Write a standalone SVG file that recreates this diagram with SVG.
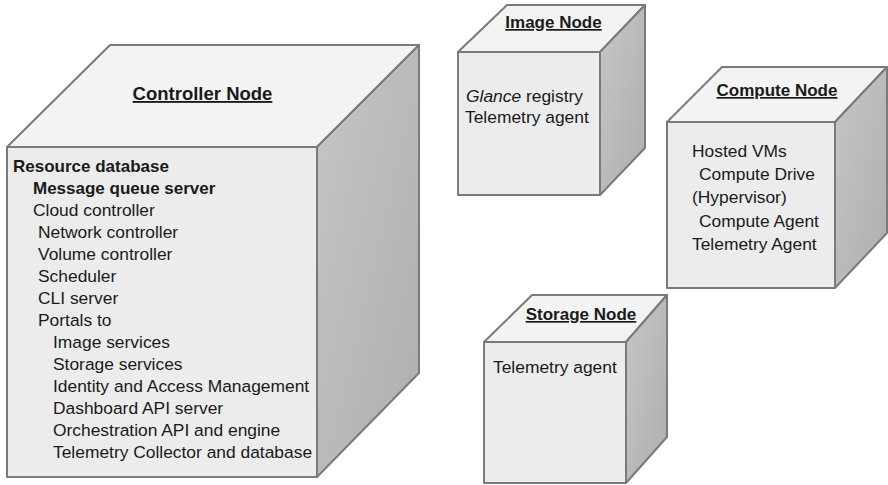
<svg xmlns="http://www.w3.org/2000/svg" width="888" height="485" viewBox="0 0 888 485">
  <defs>
    <linearGradient id="sideShade" x1="0" y1="0" x2="1" y2="1">
      <stop offset="0" stop-color="#c6c6c6"/>
      <stop offset="1" stop-color="#aeaeae"/>
    </linearGradient>
    <style>
      .front { fill: #ececec; stroke: #7a7a7a; stroke-width: 2; stroke-linejoin: round; }
      .top { fill: #f3f3f3; stroke: #7a7a7a; stroke-width: 2; stroke-linejoin: round; }
      .side { fill: url(#sideShade); stroke: #7a7a7a; stroke-width: 2; stroke-linejoin: round; }
      text { font-family: "Liberation Sans", Arial, Helvetica, sans-serif; font-size: 17.4px; fill: #1a1a1a; }
      .title { font-size: 17px; font-weight: bold; text-decoration: underline; }
      .big { font-size: 18.5px; }
      .b { font-weight: bold; font-size: 17px; }
      .i { font-style: italic; }
    </style>
  </defs>

  <!-- Controller Node cube -->
  <g id="controller-node">
    <polygon class="top" points="7,147 110,45 419,45 317,147"/>
    <polygon class="side" points="317,147 419,45 419,373 317,477"/>
    <rect class="front" x="7" y="147" width="310" height="330"/>
    <text class="title big" x="202.5" y="100" text-anchor="middle">Controller Node</text>
    <text class="b" x="13" y="172">Resource database</text>
    <text class="b" x="33" y="194">Message queue server</text>
    <text x="33" y="216">Cloud controller</text>
    <text x="38" y="238">Network controller</text>
    <text x="38" y="260">Volume controller</text>
    <text x="38" y="282">Scheduler</text>
    <text x="38" y="304">CLI server</text>
    <text x="38" y="326">Portals to</text>
    <text x="53" y="348">Image services</text>
    <text x="53" y="370">Storage services</text>
    <text x="53" y="392">Identity and Access Management</text>
    <text x="53" y="414">Dashboard API server</text>
    <text x="53" y="436">Orchestration API and engine</text>
    <text x="53" y="458">Telemetry Collector and database</text>
  </g>

  <!-- Image Node cube -->
  <g id="image-node">
    <polygon class="top" points="458,52 507,5 645,5 600,52"/>
    <polygon class="side" points="600,52 645,5 645,148 600,195"/>
    <rect class="front" x="458" y="52" width="142" height="143"/>
    <text class="title" x="553.5" y="28" text-anchor="middle">Image Node</text>
    <text x="466" y="102"><tspan class="i">Glance</tspan> registry</text>
    <text x="465" y="123">Telemetry agent</text>
  </g>

  <!-- Compute Node cube -->
  <g id="compute-node">
    <polygon class="top" points="667,122 722,67 887,67 835,122"/>
    <polygon class="side" points="835,122 887,67 887,233 835,288"/>
    <rect class="front" x="667" y="122" width="168" height="166"/>
    <text class="title" x="777" y="96" text-anchor="middle">Compute Node</text>
    <text x="692" y="157">Hosted VMs</text>
    <text x="699" y="180">Compute Drive</text>
    <text x="692" y="203">(Hypervisor)</text>
    <text x="699" y="227">Compute Agent</text>
    <text x="692" y="250">Telemetry Agent</text>
  </g>

  <!-- Storage Node cube -->
  <g id="storage-node">
    <polygon class="top" points="484,342 532,295 667,295 626,342"/>
    <polygon class="side" points="626,342 667,295 667,437 626,483"/>
    <rect class="front" x="484" y="342" width="142" height="141"/>
    <text class="title" x="581" y="320" text-anchor="middle">Storage Node</text>
    <text x="493" y="373">Telemetry agent</text>
  </g>

  <!-- no connectors between nodes -->
  <g id="connectors"/>
</svg>
